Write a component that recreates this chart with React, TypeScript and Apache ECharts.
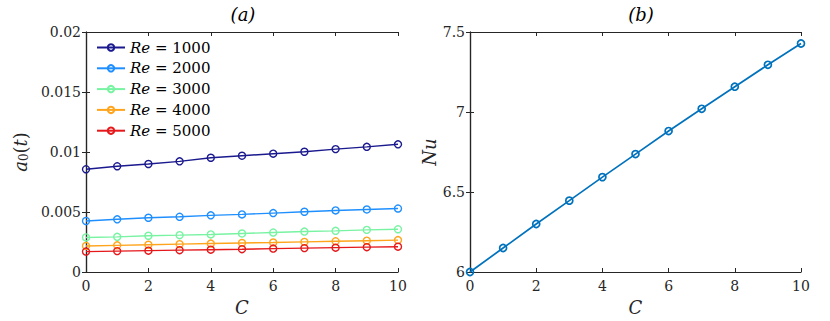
import React, { useEffect, useRef } from "react";
import * as echarts from "echarts";

const cValues = [0, 1, 2, 3, 4, 5, 6, 7, 8, 9, 10];
const re1000 = [0.00856, 0.00881, 0.0090, 0.00922, 0.00952, 0.00969, 0.00986, 0.01002, 0.01024, 0.01043, 0.01064];
const re2000 = [0.00425, 0.00439, 0.00452, 0.0046, 0.00472, 0.0048, 0.00491, 0.00502, 0.00513, 0.00521, 0.00529];
const re3000 = [0.00288, 0.00293, 0.00302, 0.00307, 0.00313, 0.00321, 0.00329, 0.00337, 0.00343, 0.00351, 0.00356];
const re4000 = [0.00217, 0.00222, 0.00227, 0.00232, 0.00237, 0.00242, 0.00246, 0.00251, 0.00256, 0.00261, 0.00266];
const re5000 = [0.0017, 0.00174, 0.00178, 0.00182, 0.00186, 0.0019, 0.00195, 0.00199, 0.00203, 0.00207, 0.00211];
const nuValues = [6.0, 6.15, 6.30, 6.446, 6.593, 6.737, 6.881, 7.02, 7.158, 7.295, 7.428];
const reLabels = ["1000", "2000", "3000", "4000", "5000"];
const reColors = ["#1a198e", "#1f8fff", "#78f3a2", "#ffa41c", "#e5181b"];
const nuColor = "#0072bd";
const yTicksA = ["0", "0.005", "0.01", "0.015", "0.02"];
const yTicksB = ["6", "6.5", "7", "7.5"];

const FONT = "DejaVu Serif";
const AX = "#262626";

export default function App() {
  const ref = useRef<HTMLDivElement>(null);
  useEffect(() => {
    if (!ref.current) return;
    const chart = echarts.init(ref.current, undefined, { renderer: "svg" });
    const reSeries = [re1000, re2000, re3000, re4000, re5000];

    const baseX = (gridIndex: number, pos: "top" | "bottom", show: boolean) => ({
      type: "value" as const,
      gridIndex,
      position: pos,
      min: 0,
      max: 10,
      interval: 2,
      axisLine: { show: true, onZero: false, lineStyle: { color: AX, width: 1.2 } },
      axisTick: { show: true, inside: true, length: 4, lineStyle: { color: AX } },
      splitLine: { show: false },
      axisLabel: {
        show,
        margin: 7,
        color: AX,
        fontFamily: FONT,
        fontSize: 14,
      },
      name: show ? "C" : "",
      nameLocation: "middle" as const,
      nameGap: 26,
      nameTextStyle: { fontFamily: FONT, fontStyle: "italic" as const, fontSize: 18, color: AX },
    });

    const yAxisBase = (gridIndex: number, pos: "left" | "right", min: number, max: number, interval: number) => ({
      type: "value" as const,
      gridIndex,
      position: pos,
      min,
      max,
      interval,
      axisLine: { show: true, lineStyle: { color: AX, width: 1.2 } },
      axisTick: { show: true, inside: true, length: 4, lineStyle: { color: AX } },
      splitLine: { show: false },
      axisLabel: { show: false },
    });

    const option: any = {
      animation: false,
      textStyle: { fontFamily: FONT },
      title: [
        { text: "(a)", left: 238, top: 0, textAlign: "center", textStyle: { fontFamily: FONT, fontStyle: "italic", fontWeight: "normal", fontSize: 18, color: "#000" } },
        { text: "(b)", left: 636, top: 0, textAlign: "center", textStyle: { fontFamily: FONT, fontStyle: "italic", fontWeight: "normal", fontSize: 18, color: "#000" } },
      ],
      grid: [
        { left: 86, right: 432, top: 32, bottom: 46 },
        { left: 470, right: 29, top: 32, bottom: 46 },
      ],
      legend: {
        orient: "vertical",
        left: 91,
        top: 34,
        itemWidth: 28,
        itemHeight: 8,
        itemGap: 3.8,
        data: reLabels.map((r) => "Re = " + r),
        formatter: (name: string) => "{i|Re} = " + name.split("= ")[1],
        textStyle: {
          fontFamily: FONT,
          fontSize: 15,
          color: "#000",
          lineHeight: 17,
          rich: { i: { fontFamily: FONT, fontStyle: "italic", fontSize: 15, color: "#000" } },
        },
      },
      xAxis: [baseX(0, "bottom", true), baseX(0, "top", false), baseX(1, "bottom", true), baseX(1, "top", false)],
      yAxis: [
        {
          ...yAxisBase(0, "left", 0, 0.02, 0.005),
          axisLabel: {
            margin: 5,
            color: AX,
            fontFamily: FONT,
            fontSize: 14,
            formatter: (v: number) => yTicksA[Math.round(v / 0.005)] ?? "",
          },
          name: "{i|a}{s|0}{n|(}{i|t}{n|)}",
          nameLocation: "middle",
          nameGap: 56,
          nameRotate: 90,
          nameTextStyle: {
            color: AX,
            fontFamily: FONT,
            rich: {
              i: { fontFamily: FONT, fontStyle: "italic", fontSize: 18, color: AX },
              n: { fontFamily: FONT, fontSize: 18, color: AX },
              s: { fontFamily: FONT, fontSize: 12, color: AX, verticalAlign: "bottom", padding: [8, 0, 0, 0] },
            },
          },
        },
        yAxisBase(0, "right", 0, 0.02, 0.005),
        {
          ...yAxisBase(1, "left", 6, 7.5, 0.5),
          axisLabel: {
            margin: 5,
            color: AX,
            fontFamily: FONT,
            fontSize: 14,
            formatter: (v: number) => yTicksB[Math.round((v - 6) / 0.5)] ?? "",
          },
          name: "Nu",
          nameLocation: "middle",
          nameGap: 32,
          nameRotate: 90,
          nameTextStyle: { fontFamily: FONT, fontStyle: "italic", fontSize: 18, color: AX },
        },
        yAxisBase(1, "right", 6, 7.5, 0.5),
      ],
      series: [
        ...reSeries.map((vals, i) => ({
          name: "Re = " + reLabels[i],
          type: "line",
          xAxisIndex: 0,
          yAxisIndex: 0,
          data: cValues.map((c, j) => [c, vals[j]]),
          symbol: "circle",
          symbolSize: 7,
          showAllSymbol: true,
          clip: false,
          lineStyle: { color: reColors[i], width: 1.4 },
          itemStyle: { color: "rgba(255,255,255,0)", borderColor: reColors[i], borderWidth: 1.4 },
          color: reColors[i],
        })),
        {
          name: "Nu",
          type: "line",
          xAxisIndex: 2,
          yAxisIndex: 2,
          data: cValues.map((c, j) => [c, nuValues[j]]),
          symbol: "circle",
          symbolSize: 7,
          clip: false,
          lineStyle: { color: nuColor, width: 1.7 },
          itemStyle: { color: "rgba(255,255,255,0)", borderColor: nuColor, borderWidth: 1.7 },
        },
      ],
    };
    chart.setOption(option);
    return () => chart.dispose();
  }, []);
  return (
    <div
      ref={ref}
      style={{ position: "fixed", left: 0, top: 0, width: 830, height: 321, background: "#fff" }}
    />
  );
}
